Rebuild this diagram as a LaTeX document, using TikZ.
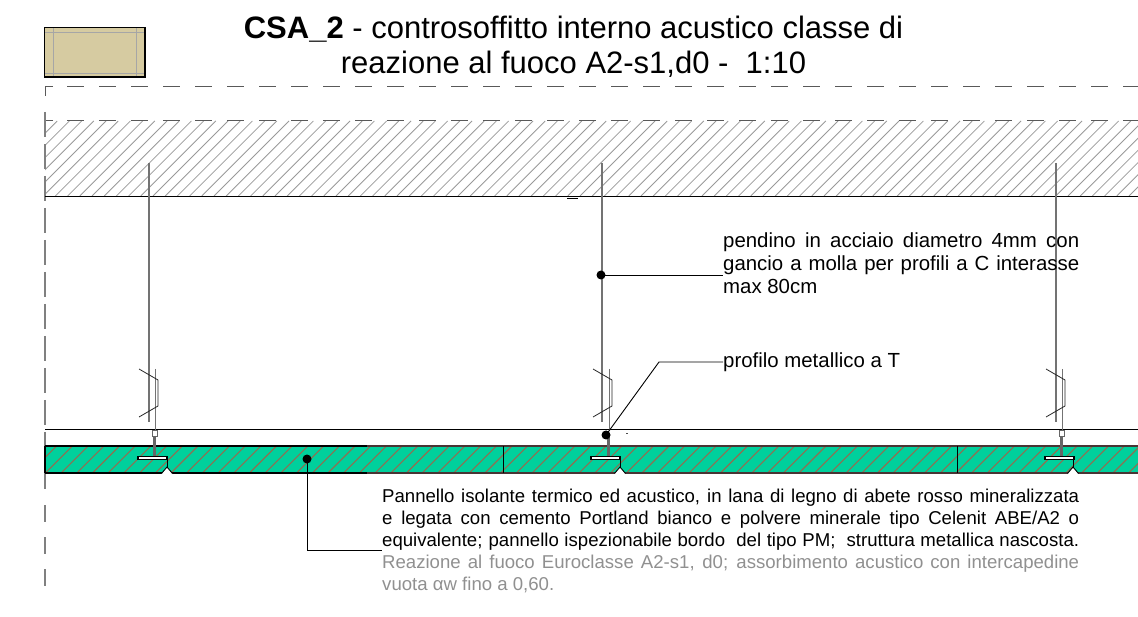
\documentclass[tikz,border=0pt]{standalone}
\usepackage{fontspec}
\setmainfont{Liberation Sans}
\definecolor{tanfill}{HTML}{D6CBA1}
\definecolor{panelfill}{HTML}{00D09C}
\definecolor{hatchbrown}{HTML}{8F6F52}
\definecolor{edgebrown}{HTML}{4A3434}
\definecolor{greytext}{HTML}{909090}
\newcommand{\jline}[2]{\hbox to #1{\spaceskip=.25em plus 1fil\relax #2}}
\tikzset{
  x=1pt,y=-1pt,
  txt/.style={inner sep=0pt,anchor=west,align=left},
  leader/.style={draw=black,line width=.9pt},
  ldot/.style={circle,fill=black,inner sep=0pt,minimum size=9pt},
  hangerline/.style={draw=black!55,line width=1.3pt},
  dashedge/.style={draw=black!65,line width=1pt},
  sideedge/.style={draw=black!50,line width=1.5pt},
  hatchc/.style={draw=black!40,line width=.8pt},
  hatchp/.style={draw=hatchbrown,line width=1.1pt},
  rail/.style={draw=black,line width=.9pt},
}
\begin{document}
\begin{tikzpicture}
\useasboundingbox (0,0) rectangle (1138,617);
% sample box
\fill[tanfill] (44.5,27.5) rectangle (145,77);
\draw[black!35,line width=.9pt] (53,27.5)--(53,77) (136,27.5)--(136,77) (44.5,32)--(145,32) (44.5,73)--(145,73);
\draw[black,line width=1.1pt] (44.5,27.5) rectangle (145,77);
% title
\node[inner sep=0pt,anchor=center] (title1) at (573.5,29) {\fontsize{31}{36}\selectfont\textbf{CSA\_2} - controsoffitto interno acustico classe di};
\node[inner sep=0pt,anchor=center] (title2) at (573.5,64) {\fontsize{31}{36}\selectfont reazione al fuoco A2-s1,d0 -\ \ 1:10};
% concrete
\begin{scope}
\clip (45,121) rectangle (1138,196);
\foreach \i in {0,...,96} \draw[hatchc] ({45+12.2*\i-75},196)--({45+12.2*\i},121);
\end{scope}
% dashed limits
\foreach \yy in {87,121}{
  \draw[dashedge] (53,\yy)--(45,\yy);
  \draw[dashedge,dash pattern=on 17pt off 15pt] (67,\yy)--(1138,\yy);
}
\draw[dashedge] (45,87)--(45,96);
\draw[sideedge,dash pattern=on 25pt off 7pt] (45,112)--(45,489);
\draw[sideedge,dash pattern=on 16.5pt off 15.5pt] (45,505)--(45,586);
\draw[rail] (45,196)--(1138,196);
\draw[black,line width=.7pt] (567,198)--(578,198);
% ceiling line
\draw[rail] (45,429.5)--(1138,429.5);
\draw[black!70,line width=.7pt] (626,433)--(628,433);
% panel
\fill[panelfill] (45,446) rectangle (1138,473);
\begin{scope}
\clip (45,446) rectangle (1138,473);
\foreach \i in {0,...,72} \draw[hatchp] ({14+15.7*\i},473)--({41+15.7*\i},446);
\end{scope}
\draw[black,line width=1.2pt] (45,446)--(367,446) (45,473)--(367,473);
\draw[edgebrown,line width=1.5pt] (367,446)--(1138,446) (367,473)--(1138,473);
\draw[black,line width=.9pt] (503,446)--(503,473) (957,446)--(957,473);
\draw[black,line width=1.1pt] (45,446)--(45,473);
% hangers
\foreach \hx/\wx/\tl/\nx/\small in {149/155/137/167/1,602/609/590/620/0,1056/1062/1044/1073/1}{
  \draw[hangerline] (\hx,163)--(\hx,422);
  \draw[hangerline,line width=1pt] (\wx,369)--(\wx,430);
  \draw[draw=black!85,line width=.8pt] ({\wx-16},369)--({\wx+3},380)--({\wx+3},406)--({\wx-16},417);
  \ifnum\small=1
    \draw[black!60,fill=white,line width=.8pt] ({\wx-2.5},430) rectangle ({\wx+2},436);
  \fi
  \draw[draw=black!60,line width=2.6pt] ({\wx-.5},436)--({\wx-.5},456);
  \fill[black] (\tl,456) rectangle ({\tl+31},460);
  \fill[white] ({\tl+2},457.2) rectangle ({\tl+29},458.8);
  \fill[white] ({\nx-5.5},474) -- (\nx,467) -- ({\nx+5.5},474) -- cycle;
  \draw[black,line width=.9pt] (\nx,456)--(\nx,467);
  \draw[black,line width=.9pt] ({\nx-5.5},473.5)--(\nx,467)--({\nx+5.5},473.5);
}
% labels
\node[txt] (pend) at (723,263) {\vbox{\fontsize{20.4}{23}\selectfont
  \jline{356pt}{pendino in acciaio diametro 4mm con}
  \jline{356pt}{gancio a molla per profili a C interasse}
  \hbox{max 80cm}}};
\node[txt] (prof) at (723,362) {\fontsize{20.4}{22}\selectfont profilo metallico a T};
\node[txt] (pann) at (382,541) {\vbox{\fontsize{18.6}{22}\selectfont
  \jline{697pt}{Pannello isolante termico ed acustico, in lana di legno di abete rosso mineralizzata}
  \jline{697pt}{e legata con cemento Portland bianco e polvere minerale tipo Celenit ABE/A2 o}
  \jline{697pt}{equivalente; pannello ispezionabile bordo\ \ del tipo PM;\ \ struttura metallica nascosta.}
  \color{greytext}
  \jline{697pt}{Reazione al fuoco Euroclasse A2-s1, d0; assorbimento acustico con intercapedine}
  \hbox{vuota αw fino a 0,60.}}};
% leaders
\node[ldot] (d1) at (601,275) {};
\node[ldot] (d2) at (606,435) {};
\node[ldot] (d3) at (307,459) {};
\coordinate (k2) at (659,362);
\coordinate (k3) at (307,550);
\draw[leader] (d1.center)--(723,275);
\draw[leader] (d2.center)--(k2)--(prof.west);
\draw[leader] (d3.center)--(k3)--(382,550);
\end{tikzpicture}
\end{document}
